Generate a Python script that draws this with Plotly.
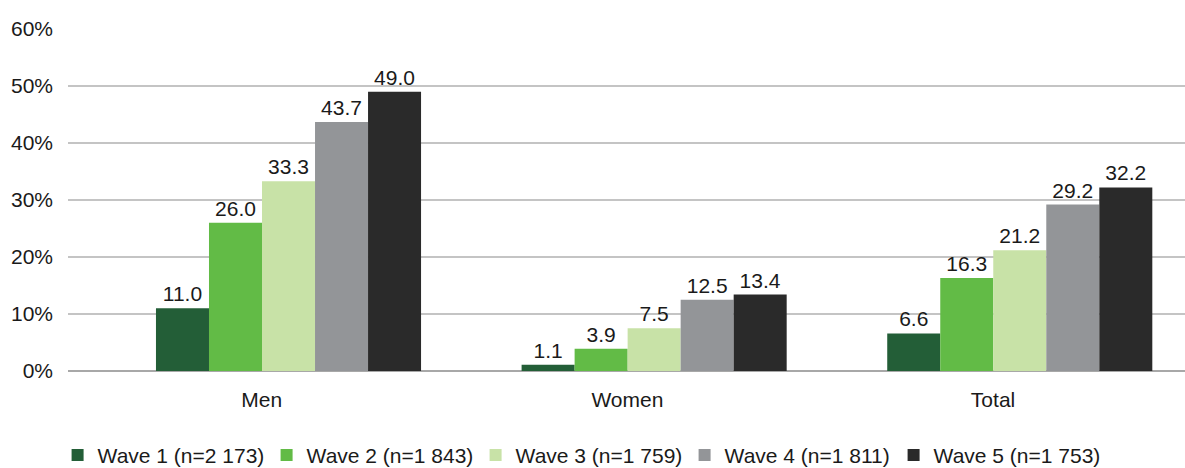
import plotly.graph_objects as go

# Share of respondents by group across survey waves (%)
categories = ["Men", "Women", "Total"]
wave_names = [
    "Wave 1 (n=2 173)",
    "Wave 2 (n=1 843)",
    "Wave 3 (n=1 759)",
    "Wave 4 (n=1 811)",
    "Wave 5 (n=1 753)",
]
wave1 = [11.0, 1.1, 6.6]
wave2 = [26.0, 3.9, 16.3]
wave3 = [33.3, 7.5, 21.2]
wave4 = [43.7, 12.5, 29.2]
wave5 = [49.0, 13.4, 32.2]
y_ticks = [0, 10, 20, 30, 40, 50, 60]
y_tick_labels = ["0%", "10%", "20%", "30%", "40%", "50%", "60%"]

colors = ["#235E37", "#62BB46", "#C8E2A7", "#939598", "#2A2A2A"]
series = [wave1, wave2, wave3, wave4, wave5]

FONT = "Liberation Sans, Arial, Helvetica, sans-serif"
TEXT = "#1A1A1A"
FS = 21

bar_w = 0.145          # width of one bar in category units
first_offset = -0.2894  # left edge of the first bar relative to category centre

fig = go.Figure()
for i, (name, vals, col) in enumerate(zip(wave_names, series, colors)):
    fig.add_trace(go.Bar(
        x=categories,
        y=vals,
        name=name,
        marker=dict(color=col, line=dict(width=0)),
        width=bar_w,
        offset=first_offset + i * bar_w,
        text=[f"{v:.1f}" for v in vals],
        textposition="outside",
        cliponaxis=False,
        constraintext="none",
        textfont=dict(family=FONT, size=FS, color=TEXT),
    ))

fig.update_layout(
    width=1185,
    height=468,
    margin=dict(l=68, r=0, t=29, b=97),
    paper_bgcolor="white",
    plot_bgcolor="white",
    barmode="overlay",
    font=dict(family=FONT, size=FS, color=TEXT),
    showlegend=True,
    legend=dict(
        orientation="h",
        xref="container",
        yref="container",
        x=0.0486,
        xanchor="left",
        y=0.027,
        yanchor="middle",
        entrywidth=164,
        font=dict(family=FONT, size=FS, color=TEXT),
        traceorder="normal",
        itemclick=False,
        itemdoubleclick=False,
    ),
    xaxis=dict(
        type="category",
        range=[-0.53, 2.525],
        showgrid=False,
        showline=False,
        ticks="",
        zeroline=False,
        tickfont=dict(family=FONT, size=FS, color=TEXT),
        ticklabelstandoff=14,
    ),
    yaxis=dict(
        range=[0, 60],
        tickmode="array",
        tickvals=y_ticks,
        ticktext=y_tick_labels,
        showgrid=True,
        gridcolor="#C4C4C4",
        gridwidth=1.5,
        zeroline=True,
        zerolinecolor="#A8A8A8",
        zerolinewidth=1.5,
        showline=False,
        ticks="",
        tickfont=dict(family=FONT, size=FS, color=TEXT),
        ticklabelstandoff=14,
    ),
)

fig.write_html("out.html")
